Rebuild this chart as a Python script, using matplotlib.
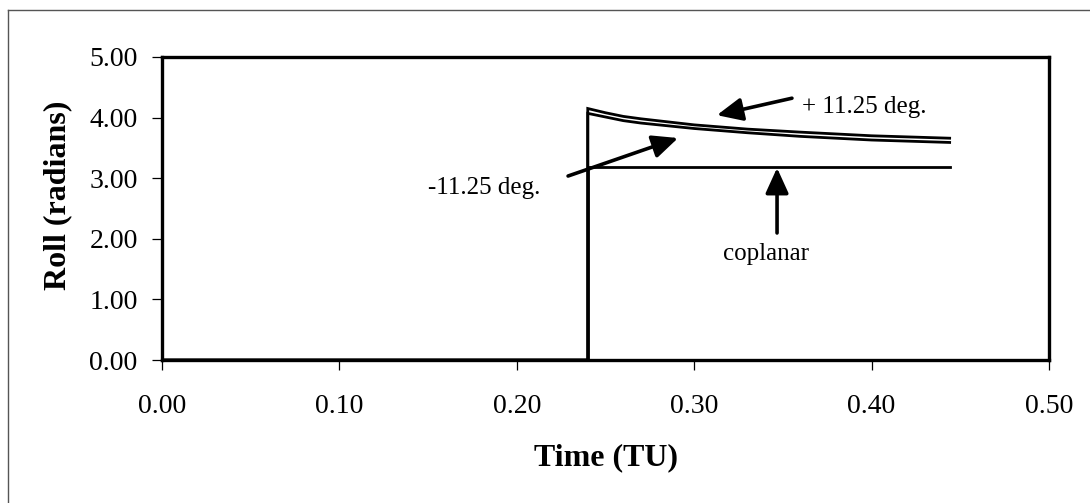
import matplotlib
matplotlib.use("Agg")
import matplotlib.pyplot as plt
from matplotlib.lines import Line2D

# ---- data ----
time_plus = [0.0, 0.24, 0.24, 0.25, 0.26, 0.27, 0.30, 0.33, 0.36, 0.40, 0.444]
roll_plus = [0.0, 0.0, 4.15, 4.08, 4.02, 3.98, 3.88, 3.81, 3.76, 3.70, 3.66]

time_minus = [0.0, 0.24, 0.24, 0.25, 0.26, 0.27, 0.30, 0.33, 0.36, 0.40, 0.444]
roll_minus = [0.0, 0.0, 4.07, 4.01, 3.95, 3.91, 3.82, 3.75, 3.69, 3.63, 3.59]

time_coplanar = [0.0, 0.24, 0.24, 0.444]
roll_coplanar = [0.0, 0.0, 3.18, 3.18]

x_ticks = [0.0, 0.1, 0.2, 0.3, 0.4, 0.5]
y_ticks = [0.0, 1.0, 2.0, 3.0, 4.0, 5.0]

x_label = "Time (TU)"
y_label = "Roll (radians)"

plt.rcParams['font.family'] = ['Liberation Serif', 'DejaVu Serif']

fig = plt.figure(figsize=(10.9, 5.03), dpi=100)
fig.patch.set_facecolor('white')
ax = fig.add_axes([162 / 1090, 1 - 360 / 503, (1049 - 162) / 1090, (360 - 57) / 503])

for t, r in [(time_plus, roll_plus), (time_minus, roll_minus), (time_coplanar, roll_coplanar)]:
    ax.plot(t, r, color='black', lw=2.0, solid_joinstyle='miter')

ax.set_xlim(0, 0.5)
ax.set_ylim(0, 5)
ax.set_xticks(x_ticks)
ax.set_yticks(y_ticks)
ax.set_xticklabels([f"{v:.2f}" for v in x_ticks])
ax.set_yticklabels([f"{v:.2f}" for v in y_ticks])

for s in ax.spines.values():
    s.set_linewidth(2.4)
ax.tick_params(direction='out', length=7.5, width=0.9, labelsize=20, color='black')
ax.tick_params(axis='y', pad=10)
ax.tick_params(axis='x', pad=17)

ax.set_xlabel(x_label, fontsize=23, fontweight='bold', va='center', ha='center')
ax.set_ylabel(y_label, fontsize=23, fontweight='bold', va='center', ha='center')
ax.xaxis.set_label_coords(0.5, (360 - 458) / 303)
ax.yaxis.set_label_coords((58 - 162) / 887, (360 - 195) / 303)

arrow = dict(arrowstyle='-|>,head_length=0.55,head_width=0.25', lw=2.6, color='black',
             mutation_scale=28, shrinkA=0, shrinkB=0)

# + 11.25 deg.
ax.annotate("", xy=(0.3128, 4.04), xytext=(0.3551, 4.32), arrowprops=arrow)
ax.text(0.361, 4.076, "+ 11.25 deg.", fontsize=18, ha='left', va='baseline')

# -11.25 deg.
ax.annotate("", xy=(0.2909, 3.663), xytext=(0.2289, 3.036), arrowprops=arrow)
ax.text(0.150, 2.745, "-11.25 deg.", fontsize=18, ha='left', va='baseline')

# coplanar
ax.annotate("", xy=(0.3467, 3.17), xytext=(0.3467, 2.096), arrowprops=arrow)
ax.text(0.3162, 1.65, "coplanar", fontsize=18, ha='left', va='baseline')

# outer chart-area border (left and top edges visible)
fig.add_artist(Line2D([8 / 1090, 8 / 1090], [0, 1 - 10 / 503], transform=fig.transFigure,
                      color='#555555', lw=1.0))
fig.add_artist(Line2D([8 / 1090, 1], [1 - 10 / 503, 1 - 10 / 503], transform=fig.transFigure,
                      color='#555555', lw=1.0))

fig.savefig("out.png", dpi=100, facecolor='white')
